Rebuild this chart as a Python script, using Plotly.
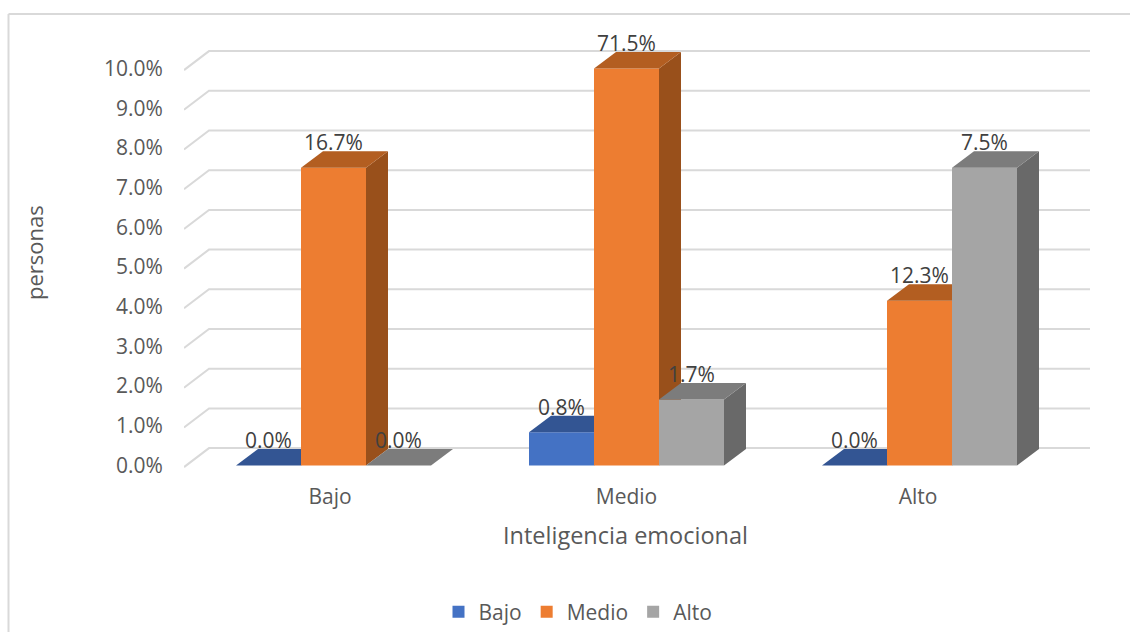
import plotly.graph_objects as go

# chart data, bar heights as drawn (Medio/Medio hits the axis max) and labels as printed
categories = ['Bajo', 'Medio', 'Alto']
bajo_values = [0, 0.84, 0]
medio_values = [7.5, 10, 4.15]
alto_values = [0, 1.66, 7.5]
bajo_labels = ['0.0%', '0.8%', '0.0%']
medio_labels = ['16.7%', '71.5%', '12.3%']
alto_labels = ['0.0%', '1.7%', '7.5%']
y_ticks = [0, 1, 2, 3, 4, 5, 6, 7, 8, 9, 10]
y_tick_labels = ['0.0%', '1.0%', '2.0%', '3.0%', '4.0%', '5.0%', '6.0%', '7.0%', '8.0%', '9.0%', '10.0%']

series = [
    dict(name='Bajo', values=bajo_values, labels=bajo_labels, front='#4472C4', top='#335593', side='#2C4E8C'),
    dict(name='Medio', values=medio_values, labels=medio_labels, front='#ED7D31', top='#B35E21', side='#99501B'),
    dict(name='Alto', values=alto_values, labels=alto_labels, front='#A5A5A5', top='#7C7C7C', side='#696969'),
]

# pixel geometry of the 1130x641 page
W, H = 1130, 641
K = 641 / 632  # the photographed page comes out slightly squeezed in y
PX_X0, PX_DX = 333.5, 293.0   # first group centre, group spacing
PX_Y0, PX_DY = 465.5 * K, 39.7 * K    # value 0, pixels per unit
LEFT, RIGHT, TOP, BOTTOM = 184, 1090, 45 * K, 470 * K

x_range = [(LEFT - PX_X0) / PX_DX, (RIGHT - PX_X0) / PX_DX]
y_range = [(PX_Y0 - BOTTOM) / PX_DY, (PX_Y0 - TOP) / PX_DY]

BAR_W = 65 / PX_DX
DEPTH_X = 22 / PX_DX
DEPTH_Y = 16.5 / 39.7
WALL_X = 25 / PX_DX
WALL_Y = 19 / 39.7
FONT = 'Open Sans'
TEXT = '#595959'

fig = go.Figure()

# back wall gridlines, with the short slanted piece on the left
grid_x, grid_y = [], []
for tick in y_ticks:
    grid_x += [x_range[0], x_range[0] + WALL_X, x_range[1], None]
    grid_y += [tick - 0.04, tick - 0.04 + WALL_Y, tick - 0.04 + WALL_Y, None]
fig.add_trace(go.Scatter(x=grid_x, y=grid_y, mode='lines', line=dict(color='#D9D9D9', width=2),
                         showlegend=False, hoverinfo='skip'))

annotations = []
for i, s in enumerate(series):
    ax = f'x{i + 2}'
    ay = f'y{i + 2}'
    offset = (i - 1.5) * BAR_W
    top_x, top_y, side_x, side_y = [], [], [], []
    for c, v in enumerate(s['values']):
        x0 = c + offset
        x1 = x0 + BAR_W
        top_x += [x0, x1, x1 + DEPTH_X, x0 + DEPTH_X, x0, None]
        top_y += [v, v, v + DEPTH_Y, v + DEPTH_Y, v, None]
        side_x += [x1, x1 + DEPTH_X, x1 + DEPTH_X, x1, x1, None]
        side_y += [0, DEPTH_Y, v + DEPTH_Y, v, 0, None]
        annotations.append(dict(
            x=x0 + BAR_W / 2, y=v + DEPTH_Y, xref='x', yref='y', text=s['labels'][c],
            showarrow=False, yanchor='bottom', yshift=-7, font=dict(family=FONT, size=21, color='#404040')))
    fig.add_trace(go.Scatter(x=side_x, y=side_y, mode='none', fill='toself', fillcolor=s['side'],
                             xaxis=ax, yaxis=ay, showlegend=False, hoverinfo='skip'))
    fig.add_trace(go.Scatter(x=top_x, y=top_y, mode='none', fill='toself', fillcolor=s['top'],
                             xaxis=ax, yaxis=ay, showlegend=False, hoverinfo='skip'))
    fig.add_trace(go.Bar(x=[0, 1, 2], y=s['values'], name=s['name'], width=BAR_W, offset=offset,
                         marker=dict(color=s['front'], line=dict(width=0)), xaxis=ax, yaxis=ay))

annotations.append(dict(x=625 / W, y=1 - 535 * K / H, xref='paper', yref='paper', text='Inteligencia emocional',
                        showarrow=False, xanchor='center', yanchor='middle',
                        font=dict(family=FONT, size=23.5, color=TEXT)))
annotations.append(dict(x=34 / W, y=1 - 253 * K / H, xref='paper', yref='paper', text='personas', textangle=-90,
                        showarrow=False, xanchor='center', yanchor='middle',
                        font=dict(family=FONT, size=22, color=TEXT)))

domain_x = [LEFT / W, RIGHT / W]
domain_y = [1 - BOTTOM / H, 1 - TOP / H]

fig.update_layout(
    width=W,
    height=H,
    autosize=False,
    margin=dict(l=0, r=0, t=0, b=0),
    plot_bgcolor='white',
    paper_bgcolor='white',
    font=dict(family=FONT, size=21, color=TEXT),
    annotations=annotations,
    legend=dict(orientation='h', x=578 / W, xanchor='center', y=1 - 612 * K / H, yanchor='middle',
                font=dict(family=FONT, size=21, color=TEXT), itemwidth=30),
    xaxis=dict(domain=domain_x, range=x_range, tickvals=[-0.012, 1, 1.995], ticktext=categories,
               showgrid=False, zeroline=False, showline=False, ticks='outside', ticklen=8,
               tickcolor='rgba(0,0,0,0)'),
    yaxis=dict(domain=domain_y, range=y_range, tickvals=y_ticks, ticktext=y_tick_labels,
               showgrid=False, zeroline=False, showline=False, ticks='outside', ticklen=16,
               tickcolor='rgba(0,0,0,0)'),
    shapes=[
        dict(type='line', xref='paper', yref='paper', x0=8.5 / W, x1=8.5 / W, y0=0, y1=1 - 14 * K / H,
             line=dict(color='#D9D9D9', width=2)),
        dict(type='line', xref='paper', yref='paper', x0=8.5 / W, x1=1, y0=1 - 14 * K / H, y1=1 - 14 * K / H,
             line=dict(color='#D9D9D9', width=2)),
    ],
)
for n in (2, 3, 4):
    fig.update_layout({
        f'xaxis{n}': dict(domain=domain_x, range=x_range, overlaying='x', visible=False),
        f'yaxis{n}': dict(domain=domain_y, range=y_range, overlaying='y', visible=False),
    })

# the page's default body margin would push the figure 8px in
fig.write_html("out.html", config=dict(displayModeBar=False),
               post_script="document.body.style.margin='0';")
